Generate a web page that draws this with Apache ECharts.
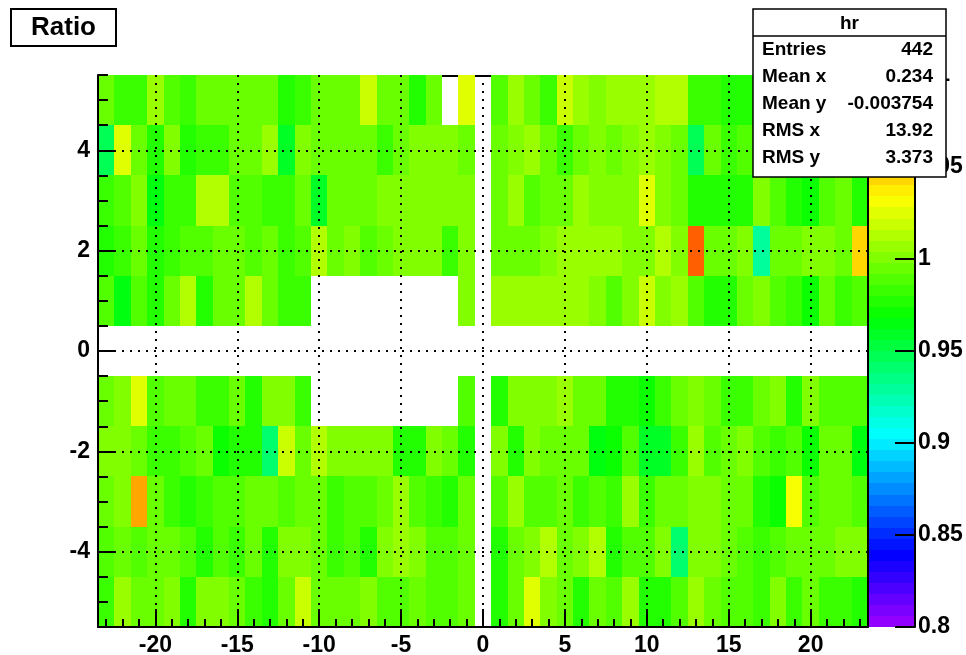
<!DOCTYPE html>
<html><head><meta charset="utf-8">
<script src="https://cdn.jsdelivr.net/npm/echarts@6/dist/echarts.min.js"></script>
<style>html,body{margin:0;padding:0;background:#fff}#c{width:966px;height:655px}</style>
</head><body><div id="c"></div>
<script>
// ---------------- data ----------------
const xBins = [-23,-22,-21,-20,-19,-18,-17,-16,-15,-14,-13,-12,-11,-10,-9,-8,-7,-6,-5,-4,-3,-2,-1,0,
               1,2,3,4,5,6,7,8,9,10,11,12,13,14,15,16,17,18,19,20,21,22,23];
const yBins = [5,4,3,2,1,0,-1,-2,-3,-4,-5];

const ratioY5 = [
 0.995, 0.984, 0.984, 1.006, 0.988, 0.984, 0.995, 0.995, 0.995, 0.995,
 0.995, 0.976, 0.984, 0.995, 0.995, 0.995, 1.016, 0.995, 0.995, 0.974,
 0.995, null, 1.025, null, 0.986, 1.009, 0.995, 0.984, 1.016, 1.009,
 0.999, 1.009, 1.004, 1.004, 1.015, 1.015, 0.983, 0.983, 0.977, 0.977,
 0.990, 0.995, 0.985, 0.990, 0.995, 0.985, 0.990];
const ratioY4 = [
 0.944, 1.024, 0.995, 0.978, 1.002, 0.978, 0.984, 0.984, 0.995, 0.995,
 1.006, 0.958, 1.002, 0.995, 0.995, 0.995, 0.995, 0.984, 0.995, 1.002,
 1.002, 0.998, 0.995, null, 0.995, 1.002, 1.009, 0.995, 0.984, 0.995,
 1.002, 0.995, 1.002, 1.009, 1.002, 0.995, 0.947, 0.995, 0.984, 0.986,
 0.992, 0.985, 0.995, 0.990, 0.985, 0.995, 0.990];
const ratioY3 = [
 0.984, 0.986, 0.998, 0.962, 0.984, 0.984, 1.015, 1.015, 0.986, 0.986,
 0.984, 0.984, 0.995, 0.960, 0.995, 0.995, 0.995, 1.002, 1.002, 1.002,
 1.002, 1.002, 0.998, null, 0.995, 1.006, 0.986, 0.995, 0.995, 1.006,
 0.998, 0.998, 1.002, 1.024, 1.002, 0.995, 0.976, 0.976, 0.976, 0.976,
 1.002, 0.986, 0.976, 0.972, 0.986, 0.995, 0.976];
const ratioY2 = [
 0.976, 0.984, 0.995, 0.976, 0.984, 0.986, 0.986, 0.995, 0.995, 0.986,
 0.995, 0.984, 0.986, 1.012, 0.995, 1.000, 0.990, 0.995, 0.998, 1.002,
 1.002, 0.984, 1.002, null, 0.995, 0.995, 0.995, 0.998, 1.006, 1.006,
 1.006, 1.008, 1.002, 1.002, 1.015, 1.002, 1.072, 0.995, 0.995, 0.998,
 0.929, 0.995, 0.995, 1.002, 1.002, 0.995, 1.042];
const ratioY1 = [
 0.986, 0.965, 0.986, 0.976, 0.995, 1.015, 0.974, 0.995, 0.995, 1.015,
 0.995, 0.984, 0.984, null, null, null, null, null, null, null,
 null, null, 1.002, null, 1.009, 1.009, 1.009, 1.009, 1.009, 1.009,
 1.003, 0.990, 1.002, 1.016, 1.002, 1.004, 0.986, 0.976, 0.976, 0.995,
 0.998, 0.986, 0.984, 0.972, 0.995, 0.984, 0.986];
const ratioY0 = [
 null, null, null, null, null, null, null, null, null, null,
 null, null, null, null, null, null, null, null, null, null,
 null, null, null, null, null, null, null, null, null, null,
 null, null, null, null, null, null, null, null, null, null,
 null, null, null, null, null, null, null];
const ratioYm1 = [
 0.995, 1.002, 1.024, 0.986, 0.995, 0.995, 0.984, 0.984, 0.995, 0.976,
 0.998, 0.998, 0.984, null, null, null, null, null, null, null,
 null, null, 0.986, null, 0.974, 1.002, 1.002, 1.002, 1.009, 0.995,
 0.992, 0.976, 0.976, 0.972, 0.984, 0.995, 1.002, 0.995, 0.984, 0.984,
 0.995, 1.002, 0.974, 1.002, 0.986, 0.986, 0.986];
const ratioYm2 = [
 0.998, 0.998, 0.995, 0.984, 0.984, 0.986, 0.995, 0.968, 0.974, 0.974,
 0.940, 1.016, 0.995, 1.012, 1.002, 0.998, 0.998, 0.998, 0.977, 0.977,
 0.998, 0.995, 0.974, null, 1.002, 0.977, 1.002, 0.995, 0.995, 0.995,
 0.962, 0.972, 0.986, 0.957, 0.959, 0.984, 1.006, 0.986, 0.995, 0.998,
 0.986, 0.984, 0.986, 0.970, 0.995, 0.995, 0.966];
const ratioYm3 = [
 0.995, 1.002, 1.055, 0.995, 0.984, 0.976, 0.984, 0.986, 0.986, 0.995,
 0.995, 0.986, 0.995, 0.995, 0.984, 0.986, 0.986, 0.995, 1.006, 0.986,
 0.984, 0.976, 0.995, null, 0.986, 1.009, 0.986, 0.986, 0.995, 0.984,
 0.986, 0.984, 1.006, 0.984, 0.995, 0.995, 0.998, 1.002, 0.995, 0.995,
 0.976, 0.972, 1.031, 0.986, 0.995, 0.995, 0.986];
const ratioYm4 = [
 0.986, 0.995, 0.986, 0.995, 0.995, 0.986, 0.976, 0.986, 0.984, 0.995,
 0.976, 1.002, 1.002, 0.995, 0.984, 0.990, 0.977, 1.002, 1.009, 1.002,
 0.986, 0.986, 0.995, null, 0.976, 0.995, 1.002, 1.015, 0.995, 1.002,
 1.015, 0.978, 0.986, 0.986, 1.002, 0.941, 1.002, 1.002, 0.995, 0.986,
 0.984, 0.986, 0.995, 0.995, 0.995, 1.002, 0.998];
const ratioYm5 = [
 0.984, 1.009, 0.995, 0.995, 1.002, 0.976, 1.002, 1.002, 0.995, 0.984,
 0.974, 0.995, 1.016, 0.995, 0.995, 0.995, 0.998, 0.986, 0.986, 0.995,
 0.986, 0.986, 0.995, null, 0.974, 0.995, 1.024, 1.002, 0.995, 0.976,
 0.995, 0.990, 1.009, 0.976, 0.976, 0.986, 1.009, 0.995, 0.986, 0.986,
 0.984, 1.002, 0.984, 0.995, 0.984, 0.984, 0.976];
const ratioRows = [ratioY5, ratioY4, ratioY3, ratioY2, ratioY1, ratioY0,
                   ratioYm1, ratioYm2, ratioYm3, ratioYm4, ratioYm5];

const xMajorTicks = [-20, -15, -10, -5, 0, 5, 10, 15, 20];
const xMinorTicks = [-23,-22,-21,-20,-19,-18,-17,-16,-15,-14,-13,-12,-11,-10,-9,-8,-7,-6,-5,-4,-3,-2,-1,0,
                     1,2,3,4,5,6,7,8,9,10,11,12,13,14,15,16,17,18,19,20,21,22,23];
const yMajorTicks = [-4, -2, 0, 2, 4];
const yMinorTicks = [-5.5,-5,-4.5,-4,-3.5,-3,-2.5,-2,-1.5,-1,-0.5,0,0.5,1,1.5,2,2.5,3,3.5,4,4.5,5,5.5];
const zMin = 0.8, zMax = 1.1, zInterval = 0.05;

const titleText = 'Ratio';
const statsTitle = 'hr';
const statsLabels = ['Entries', 'Mean x', 'Mean y', 'RMS x', 'RMS y'];
const statsValues = ['442', '0.234', '-0.003754', '13.92', '3.373'];

// ---------------- palette (ROOT pretty palette, 50 colours) ----------------
const nColors = 50;
const zStep = (zMax - zMin) / nColors;
function paletteColor(i) {
  const hue = 280 - (i + 1) * 280 / nColors;
  return 'hsl(' + hue + ',100%,50%)';
}
function colorFor(v) {
  let i = Math.floor((v - zMin) / (zMax - zMin) * nColors + 1e-9);
  if (i < 0) i = 0;
  if (i > nColors - 1) i = nColors - 1;
  return paletteColor(i);
}

const cells = [];
yBins.forEach((y, yi) => {
  xBins.forEach((x, xi) => {
    const v = ratioRows[yi][xi];
    if (v !== null && v !== undefined) cells.push([x, y, v]);
  });
});
const paletteLevels = [];
for (let i = 0; i < nColors; i++) paletteLevels.push([0.5, zMin + (i + 0.5) * zStep, i]);

// ---------------- chart ----------------
const chart = echarts.init(document.getElementById('c'), null, {renderer: 'canvas', width: 966, height: 655});
const axisFont = {fontFamily: 'Liberation Sans', fontWeight: 'bold', fontSize: 23, color: '#000'};
const black2 = {color: '#000', width: 2};
const dotted = {color: '#000', width: 2, type: [2, 6]};
const statsFont = 'bold 19px "Liberation Sans"';

const graphic = [
  {type: 'rect', z: 100, shape: {x: 11, y: 9, width: 105, height: 37},
   style: {fill: '#fff', stroke: '#000', lineWidth: 2}},
  {type: 'text', z: 101, x: 63.5, y: 28,
   style: {text: titleText, font: 'bold 26px "Liberation Sans"', fill: '#000', align: 'center', verticalAlign: 'middle'}},
  {type: 'rect', z: 100, shape: {x: 753, y: 9, width: 193, height: 168},
   style: {fill: '#fff', stroke: '#000', lineWidth: 1.5}},
  {type: 'line', z: 101, shape: {x1: 753, y1: 36, x2: 946, y2: 36},
   style: {stroke: '#000', lineWidth: 1.5}},
  {type: 'text', z: 101, x: 849.5, y: 24,
   style: {text: statsTitle, font: statsFont, fill: '#000', align: 'center', verticalAlign: 'middle'}}
];
statsLabels.forEach((lab, i) => {
  graphic.push({type: 'text', z: 101, x: 762, y: 50 + 27 * i,
    style: {text: lab, font: statsFont, fill: '#000', align: 'left', verticalAlign: 'middle'}});
  graphic.push({type: 'text', z: 101, x: 933, y: 50 + 27 * i,
    style: {text: statsValues[i], font: statsFont, fill: '#000', align: 'right', verticalAlign: 'middle'}});
});

const option = {
  animation: false,
  backgroundColor: '#fff',
  grid: [
    {left: 98, top: 75, width: 770, height: 552, containLabel: false, outerBoundsMode: 'none'},
    {left: 869, top: 75, width: 46, height: 552, containLabel: false, outerBoundsMode: 'none'}
  ],
  xAxis: [
    {gridIndex: 0, type: 'value', position: 'bottom', min: -23.5, max: 23.5, z: 10,
     axisLine: {show: true, onZero: false, lineStyle: black2},
     axisTick: {show: true, inside: true, length: 18, customValues: xMajorTicks, lineStyle: black2},
     axisLabel: Object.assign({show: true, customValues: xMajorTicks, margin: 7}, axisFont),
     splitLine: {show: true, lineStyle: dotted}},
    {gridIndex: 0, type: 'value', position: 'bottom', min: -23.5, max: 23.5, z: 10,
     axisLine: {show: false, onZero: false},
     axisTick: {show: true, inside: true, length: 8, customValues: xMinorTicks, lineStyle: black2},
     axisLabel: {show: false}, splitLine: {show: false}},
    {gridIndex: 0, type: 'value', position: 'top', offset: -1, min: -23.5, max: 23.5, z: 0,
     axisLine: {show: true, onZero: false, lineStyle: black2},
     axisTick: {show: false}, axisLabel: {show: false}, splitLine: {show: false}},
    {gridIndex: 1, type: 'value', min: 0, max: 1, show: false}
  ],
  yAxis: [
    {gridIndex: 0, type: 'value', position: 'left', min: -5.5, max: 5.5, z: 10,
     axisLine: {show: true, onZero: false, lineStyle: black2},
     axisTick: {show: true, inside: true, length: 18, customValues: yMajorTicks, lineStyle: black2},
     axisLabel: Object.assign({show: true, customValues: yMajorTicks, margin: 8}, axisFont),
     splitLine: {show: true, lineStyle: dotted}},
    {gridIndex: 0, type: 'value', position: 'left', min: -5.5, max: 5.5, z: 10,
     axisLine: {show: false, onZero: false},
     axisTick: {show: true, inside: true, length: 10, customValues: yMinorTicks, lineStyle: black2},
     axisLabel: {show: false}, splitLine: {show: false}},
    {gridIndex: 0, type: 'value', position: 'right', min: -5.5, max: 5.5, z: 10,
     axisLine: {show: true, onZero: false, lineStyle: black2},
     axisTick: {show: false}, axisLabel: {show: false}, splitLine: {show: false}},
    {gridIndex: 1, type: 'value', position: 'right', min: zMin, max: zMax, interval: zInterval, z: 10,
     axisLine: {show: true, onZero: false, lineStyle: black2},
     axisTick: {show: true, inside: true, length: 20, lineStyle: black2},
     axisLabel: Object.assign({show: true, margin: 3}, axisFont),
     splitLine: {show: false}}
  ],
  series: [
    {type: 'custom', name: 'hr', xAxisIndex: 0, yAxisIndex: 0, z: 2, data: cells,
     encode: {x: 0, y: 1},
     renderItem: function (params, api) {
       const x = api.value(0), y = api.value(1), v = api.value(2);
       const a = api.coord([x - 0.5, y + 0.5]);
       const b = api.coord([x + 0.5, y - 0.5]);
       const x0 = Math.round(a[0]), y0 = Math.round(a[1]);
       const x1 = Math.round(b[0]), y1 = Math.round(b[1]);
       return {type: 'rect', shape: {x: x0, y: y0, width: x1 - x0, height: y1 - y0},
               style: {fill: colorFor(v)}};
     }},
    {type: 'custom', name: 'palette', xAxisIndex: 3, yAxisIndex: 3, z: 2, data: paletteLevels,
     encode: {x: 0, y: 1},
     renderItem: function (params, api) {
       const i = api.value(2);
       const lo = zMin + i * zStep;
       const a = api.coord([0, lo + zStep]);
       const b = api.coord([1, lo]);
       const x0 = Math.round(a[0]), y0 = Math.round(a[1]);
       const x1 = Math.round(b[0]), y1 = Math.round(b[1]);
       return {type: 'rect', shape: {x: x0, y: y0, width: x1 - x0, height: y1 - y0},
               style: {fill: paletteColor(i)}};
     }}
  ],
  graphic: graphic
};
chart.setOption(option);
</script>
</body></html>
